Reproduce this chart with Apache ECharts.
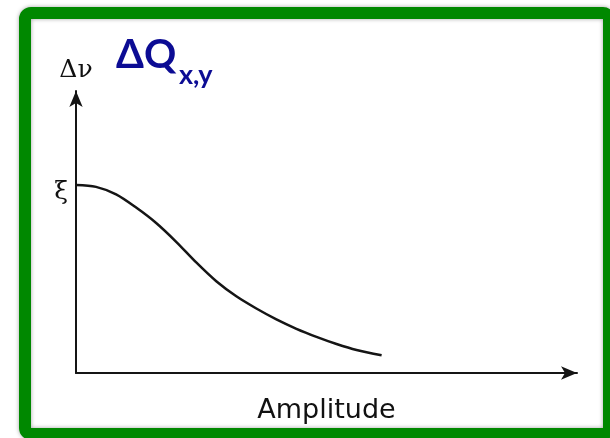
<!DOCTYPE html>
<html>
<head>
<meta charset="utf-8">
<script src="https://cdn.jsdelivr.net/npm/echarts@6/dist/echarts.min.js"></script>
<style>
html,body{margin:0;padding:0;background:#fff;}
#chart{width:610px;height:438px;}
</style>
</head>
<body>
<div id="chart"></div>
<script>
// Amplitude (arbitrary units) and tune shift relative to ξ
const amplitude = [0, 0.4, 0.8, 1.2, 1.6, 2.0, 2.4, 2.8, 3.2, 3.6, 4.0, 4.4, 4.8, 5.2, 5.6, 6.1];
const tuneShift = [1.0, 0.99, 0.95, 0.88, 0.798, 0.698, 0.588, 0.488, 0.408, 0.343, 0.285, 0.235, 0.192, 0.154, 0.122, 0.094];
const yTickLabels = { 1: 'ξ' };
const xAxisTitle = 'Amplitude';
const yAxisTitle = 'Δν';
const headingMain = 'ΔQ';
const headingSub = 'x,y';

const chart = echarts.init(document.getElementById('chart'), null, { renderer: 'canvas' });
const ink = '#151515';
chart.setOption({
  animation: false,
  backgroundColor: '#ffffff',
  grid: { left: 76, right: 33, top: 91, bottom: 65, containLabel: false },
  xAxis: {
    type: 'value', min: 0, max: 10,
    name: xAxisTitle, nameLocation: 'middle', nameGap: 24,
    nameTextStyle: { fontFamily: 'DejaVu Sans', fontSize: 27, color: '#111' },
    axisLine: { show: true, symbol: ['none', 'arrow'], symbolSize: [10, 16], lineStyle: { color: ink, width: 2 } },
    axisTick: { show: false }, axisLabel: { show: false }, splitLine: { show: false }
  },
  yAxis: {
    type: 'value', min: 0, max: 1.5, interval: 0.5,
    name: yAxisTitle, nameLocation: 'end', nameGap: 8,
    nameTextStyle: { fontFamily: 'DejaVu Serif', fontSize: 25, color: '#111', align: 'center' },
    axisLine: { show: true, symbol: ['none', 'arrow'], symbolSize: [10, 16], lineStyle: { color: ink, width: 2 } },
    axisTick: { show: false }, splitLine: { show: false },
    axisLabel: {
      show: true, margin: 8, color: '#111',
      formatter: function (v) { return yTickLabels[v] ? '{s|' + yTickLabels[v] + '}' : ''; },
      rich: { s: { fontFamily: 'DejaVu Serif', fontSize: 25, color: '#111', padding: [14, 0, 0, 0] } }
    }
  },
  series: [{
    type: 'line', smooth: 0.3, showSymbol: false,
    data: amplitude.map((a, i) => [a, tuneShift[i]]),
    lineStyle: { color: ink, width: 2.5 }
  }],
  graphic: [
    { type: 'rect', silent: true, z: 100,
      shape: { x: 25, y: 13, width: 584, height: 421, r: 6 },
      style: { fill: null, stroke: '#008800', lineWidth: 12, shadowColor: 'rgba(0,0,0,0.35)', shadowBlur: 4 } },
    { type: 'text', x: 116, y: 55, z: 101,
      style: { text: headingMain, fontFamily: 'Lato', fontWeight: 'bold', fontSize: 40, fill: '#0c0c94', verticalAlign: 'middle' } },
    { type: 'text', x: 179, y: 75, z: 101,
      style: { text: headingSub, fontFamily: 'Lato', fontWeight: 'bold', fontSize: 27, fill: '#0c0c94', verticalAlign: 'middle' } }
  ]
});
</script>
</body>
</html>
